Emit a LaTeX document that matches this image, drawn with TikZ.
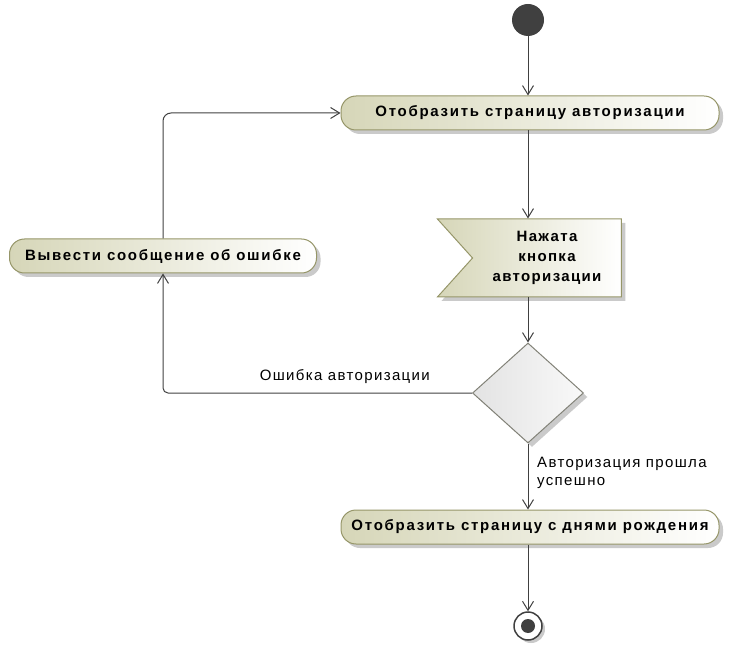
\documentclass[tikz,border=0pt]{standalone}
\usepackage{fontspec}
\setmainfont{Liberation Sans}
\newfontfamily\spacedfont[LetterSpace=9]{Liberation Sans}
\newfontfamily\boldspaced[LetterSpace=11.5]{Liberation Sans}
\usetikzlibrary{arrows.meta, shapes.geometric, shapes.symbols, shadows}

\definecolor{lineclr}{RGB}{64,64,64}
\definecolor{actborder}{RGB}{150,150,105}
\definecolor{actfill}{RGB}{214,214,184}
\definecolor{decborder}{RGB}{130,130,120}

\tikzset{
  flow/.style={draw=lineclr, line width=1pt, -{Straight Barb[length=9pt, width=11pt]}},
  action/.style={draw=actborder, line width=1pt, rounded corners=15pt,
    left color=actfill, right color=white, minimum height=34pt,
    font=\boldspaced\bfseries\fontsize{15}{17}\selectfont,
    drop shadow={shadow xshift=4pt, shadow yshift=-4pt, fill=gray!70, opacity=0.6}},
  signalbox/.style={draw=actborder, line width=1pt, shape=signal, signal from=west,
    signal to=nowhere, signal pointer angle=96, left color=actfill, right color=white,
    minimum width=184pt, minimum height=78pt, inner xsep=0pt, align=center,
    font=\spacedfont\bfseries\fontsize{15}{20}\selectfont,
    drop shadow={shadow xshift=4pt, shadow yshift=-4pt, fill=gray!70, opacity=0.6}},
  decision/.style={draw=decborder, line width=1pt, diamond, aspect=1.1,
    minimum width=111pt, minimum height=100pt, inner sep=0pt,
    left color=gray!22, right color=gray!5,
    drop shadow={shadow xshift=4pt, shadow yshift=-4pt, fill=gray!70, opacity=0.6}},
  guard/.style={font=\spacedfont\fontsize{15}{18}\selectfont, align=left, inner sep=0pt}
}

\begin{document}
\begin{tikzpicture}[x=1pt, y=-1pt]
  \useasboundingbox (0,0) rectangle (747,652);

  % Start and end
  \node[circle, fill=lineclr, minimum size=32pt, inner sep=0pt] (start) at (528,20) {};
  \node[circle, draw=lineclr, line width=1.5pt, fill=white, minimum size=28pt, inner sep=0pt,
    drop shadow={shadow xshift=3pt, shadow yshift=-3pt, fill=gray!70, opacity=0.6}] (final) at (528,626) {};
  \node[circle, fill=lineclr, minimum size=14pt, inner sep=0pt] (finaldot) at (final) {};

  % Actions
  \node[action, minimum width=378pt] (showauth) at (530,113) {Отобразить страницу авторизации};
  \node[signalbox] (pressed) at (547,258) {Нажата\\кнопка\\авторизации};
  \node[decision] (check) at (528,393) {};
  \node[action, minimum width=378pt] (showbday) at (530,527) {Отобразить страницу с днями рождения};
  \node[action, minimum width=307pt] (showerr) at (163,256) {Вывести сообщение об ошибке};

  % Flows
  \draw[flow] (start.south) -- (start.south |- showauth.north);
  \draw[flow] (start.south |- showauth.south) -- (start.south |- pressed.north);
  \draw[flow] (start.south |- pressed.south) -- (check.north);
  \draw[flow] (check.south) -- (check.south |- showbday.north);
  \draw[flow] (check.south |- showbday.south) -- (final.north);
  \draw[flow, rounded corners=5pt] (check.west) -| (showerr.south);
  \draw[flow, rounded corners=8pt] (showerr.north) |- (showauth.west);

  % Guards
  \node[guard, anchor=south east] (failtxt) at (430,384) {Ошибка авторизации};
  \node[guard, anchor=north west] (oktxt) at (537,457) {Авторизация прошла\\успешно};
\end{tikzpicture}
\end{document}
